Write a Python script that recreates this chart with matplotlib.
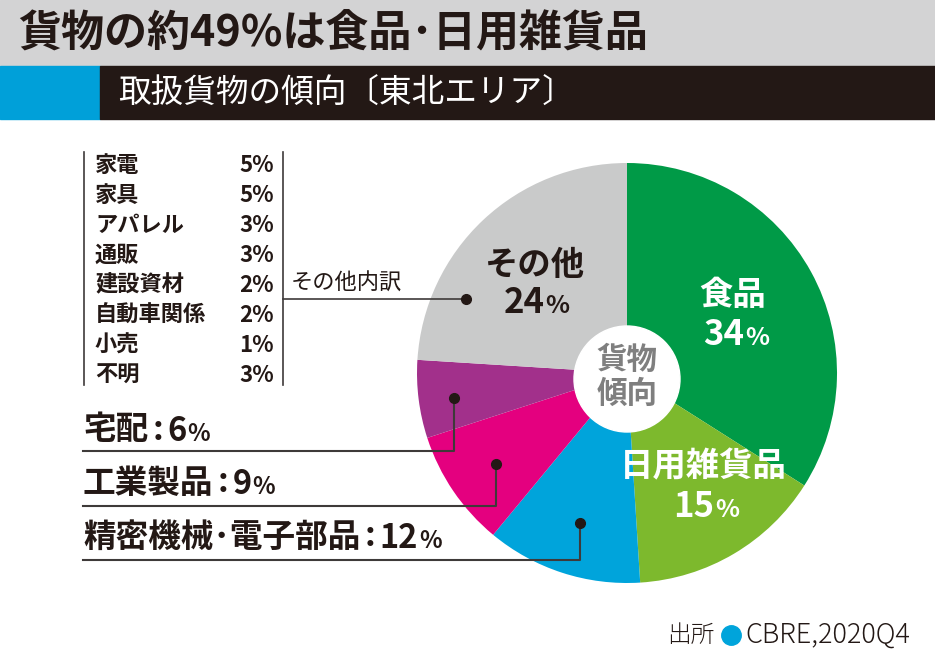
import matplotlib
matplotlib.use("Agg")
import matplotlib.pyplot as plt
from matplotlib.patches import Rectangle, Circle

plt.rcParams['font.family'] = ['Noto Sans CJK JP', 'DejaVu Sans']

W, H = 935, 658

# data
labels = ['食品', '日用雑貨品', '精密機械･電子部品', '工業製品', '宅配', 'その他']
shares = [34, 15, 12, 9, 6, 24]
colors = ['#009a47', '#7db92d', '#00a4db', '#e4007f', '#a2308b', '#c9caca']

other_items = ['家電', '家具', 'アパレル', '通販', '建設資材', '自動車関係', '小売', '不明']
other_shares = [5, 5, 3, 3, 2, 2, 1, 3]

INK = '#231815'
LINE = '#3e3a39'


def Y(y):
    return H - y


fig = plt.figure(figsize=(W / 100, H / 100), dpi=100)
ax = fig.add_axes([0, 0, 1, 1])
renderer = fig.canvas.get_renderer()

# pie
cx, cy, R = 627, 373, 210
ax.pie(shares, colors=colors, startangle=90, counterclock=False,
       center=(cx, Y(cy)), radius=R, frame=True,
       wedgeprops=dict(linewidth=0))
ax.set_xlim(0, W)
ax.set_ylim(0, H)
ax.axis('off')

# header bars
ax.add_patch(Rectangle((0, Y(66)), W, 66, color='#d3d3d4', zorder=0))
ax.add_patch(Rectangle((0, Y(119)), 100, 53, color='#00a0d9', zorder=0))
ax.add_patch(Rectangle((100, Y(119)), W - 100, 53, color=INK, zorder=0))
ax.text(18, Y(33), '貨物の約49%は食品･日用雑貨品', fontsize=31, weight='bold',
        color=INK, ha='left', va='center')
ax.text(118, Y(93), '取扱貨物の傾向〔東北エリア〕', fontsize=23.5, color='white',
        ha='left', va='center')

ax.add_patch(Circle((cx, Y(379)), 53, color='white', zorder=5))
ax.text(cx, Y(360), '貨物', fontsize=22, weight='bold', color='#7f7f7f',
        ha='center', va='center', zorder=6)
ax.text(cx, Y(394), '傾向', fontsize=22, weight='bold', color='#7f7f7f',
        ha='center', va='center', zorder=6)


def num_pct(x, y, num, size, color, ha='center', pct_scale=0.72):
    # number with a smaller % sign
    t1 = ax.text(x, y, num, fontsize=size, weight='bold', color=color,
                 ha='left', va='baseline', zorder=6)
    t2 = ax.text(x, y, '%', fontsize=size * pct_scale, weight='bold', color=color,
                 ha='left', va='baseline', zorder=6)
    w1 = t1.get_window_extent(renderer).width
    w2 = t2.get_window_extent(renderer).width
    x0 = x - (w1 + w2) / 2 if ha == 'center' else x
    t1.set_x(x0)
    t2.set_x(x0 + w1 + 1)


# slice labels
ax.text(535, Y(266), labels[5], fontsize=24, weight='bold', color=INK,
        ha='center', va='center', zorder=6)
num_pct(536, Y(313), str(shares[5]), 25, INK)
ax.text(733, Y(296), labels[0], fontsize=24, weight='bold', color='white',
        ha='center', va='center', zorder=6)
num_pct(736, Y(345), str(shares[0]), 25, 'white')
ax.text(703, Y(467), labels[1], fontsize=24, weight='bold', color='white',
        ha='center', va='center', zorder=6)
num_pct(706, Y(517), str(shares[1]), 25, 'white')

# breakdown of "その他"
for i, (name, v) in enumerate(zip(other_items, other_shares)):
    yy = Y(165 + 30 * i)
    ax.text(95, yy, name, fontsize=16, weight='bold', color=INK,
            ha='left', va='center')
    ax.text(274, yy, f'{v}%', fontsize=16, weight='bold', color=INK,
            ha='right', va='center')
for xl in (84, 283):
    ax.plot([xl, xl], [Y(152), Y(385)], color=LINE, lw=1.2)
ax.text(291, Y(283), 'その他内訳', fontsize=16, color=INK, ha='left', va='center')
ax.plot([283, 466], [Y(299), Y(299)], color=LINE, lw=1.2, zorder=6)
ax.plot([466], [Y(299)], 'o', color=INK, ms=7, zorder=7)

# callouts for the small slices
callouts = [(4, 430, 451, 454, 398), (3, 483, 506, 496, 464), (2, 537, 560, 580, 523)]
for idx, ty, uy, dx, dy in callouts:
    t = ax.text(83, Y(ty), labels[idx], fontsize=23.5, weight='bold', color=INK,
                ha='left', va='center')
    w = t.get_window_extent(renderer).width
    ax.text(83 + w + 4, Y(ty), ':', fontsize=23.5, weight='bold', color=INK,
            ha='left', va='center')
    num_pct(83 + w + 19, Y(ty + 11), str(shares[idx]), 23.5, INK, ha='left')
    ax.plot([83, dx, dx], [Y(uy), Y(uy), Y(dy)], color=LINE, lw=1.5, zorder=6)
    ax.plot([dx], [Y(dy)], 'o', color=INK, ms=7, zorder=7)

# source
ax.text(667, Y(635), '出所', fontsize=17, weight='light', color=INK,
        ha='left', va='center')
ax.plot([731], [Y(635)], 'o', color='#00a4db', ms=14)
ax.text(745, Y(635), 'CBRE,2020Q4', fontsize=19.5, weight='light', color=INK,
        ha='left', va='center')

fig.savefig('out.png', dpi=100)
